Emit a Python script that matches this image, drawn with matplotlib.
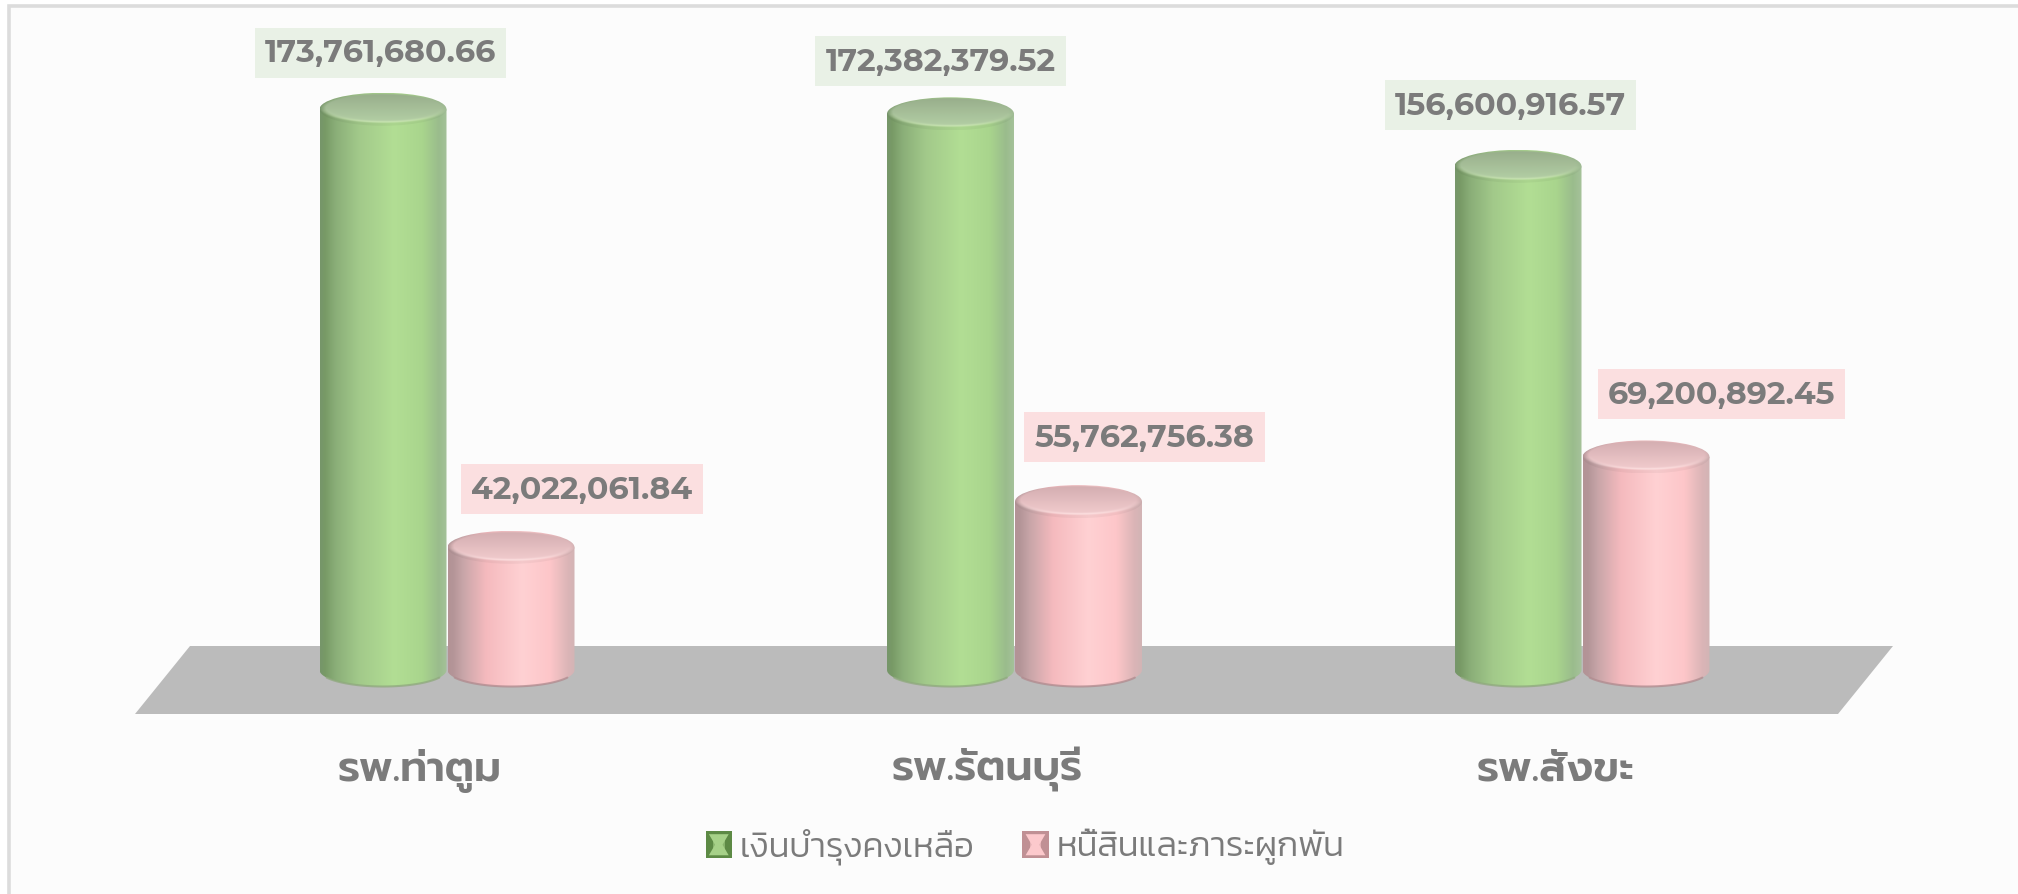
import numpy as np
import matplotlib
matplotlib.use('Agg')
import matplotlib.pyplot as plt
from matplotlib.colors import to_rgb
from matplotlib.font_manager import FontProperties
from matplotlib.legend_handler import HandlerBase
from matplotlib.patches import Ellipse, PathPatch, Polygon, Rectangle
from matplotlib.path import Path
from matplotlib.transforms import ScaledTranslation

# ---- data ----
categories = ['รพ.ท่าตูม', 'รพ.รัตนบุรี', 'รพ.สังขะ']
series_names = ['เงินบำรุงคงเหลือ', 'หนี้สินและภาระผูกพัน']
balance = [173761680.66, 172382379.52, 156600916.57]
liabilities = [42022061.84, 55762756.38, 69200892.45]

# ---- layout (pixels of the 2018x895 figure) ----
W, H = 2018, 895
GROUP_LEFT_PX, GROUP_STEP_PX = 447.0, 567.5
ZERO_PX, PX_PER_UNIT = 688.0, 3.325e-6
AXES_BOTTOM_PX = 728.0
BAR_W_PX, CAP_RY_PX, BASE_PX = 127.0, 16.5, 671.0
GREEN_DX, GREEN_DY = [-2.5, -10, -7.5], [56.5, 52.5, 61]
PINK_DX, PINK_DY = [71, 66, 75.5], [58, 64.5, 63]
TEXT = '#7b7b7b'

PALETTE = {
    'green': dict(
        stops=[(0, '#76966a'), (.04, '#789a66'), (.12, '#8aae78'), (.3, '#a2c98a'), (.58, '#b2de94'),
               (.8, '#a9d58d'), (.93, '#9abc8c'), (1, '#a6c29b')],
        top='#97ad8b', bottom='#b7d3a8', glow='#cfe9b8', rim='#8fa97d', label='#e9f1e6',
        sw_dark='#5d8a45', sw_light='#a6d188'),
    'pink': dict(
        stops=[(0, '#b39396'), (.04, '#b49598'), (.12, '#c9a6a9'), (.3, '#f5babe'), (.58, '#ffd1d3'),
               (.8, '#fdc6c9'), (.94, '#dbb5b7'), (1, '#d2b4b5')],
        top='#d3adb0', bottom='#f5cfd1', glow='#ffe6e6', rim='#b08a8e', label='#fbdfe0',
        sw_dark='#c09094', sw_light='#fcc9cc'),
}


def ramp(stops, n=256):
    xs = [s[0] for s in stops]
    cols = np.array([to_rgb(s[1]) for s in stops])
    t = np.linspace(0, 1, n)
    return np.stack([np.interp(t, xs, cols[:, i]) for i in range(3)], axis=-1)


plt.rcParams['font.family'] = ['Prompt', 'Kanit', 'Noto Sans', 'DejaVu Sans']
fig = plt.figure(figsize=(W / 100, H / 100), dpi=100, facecolor='white')


def fx(p):
    return p / W


def fy(p):
    return 1 - p / H


# panel frame
fig.add_artist(Rectangle((fx(8.5), fy(H + 20)), fx(W + 20), 1 - fy(H + 20) - (1 - fy(6.5)),
                         transform=fig.transFigure, fc='#fcfcfc', ec='#dcdcdc', lw=2.6, zorder=-2))

ax = fig.add_axes([0, 1 - AXES_BOTTOM_PX / H, 1, AXES_BOTTOM_PX / H], facecolor='none')
ax.set_xlim(-GROUP_LEFT_PX / GROUP_STEP_PX, (W - GROUP_LEFT_PX) / GROUP_STEP_PX)
ylim = ((ZERO_PX - AXES_BOTTOM_PX) / PX_PER_UNIT, ZERO_PX / PX_PER_UNIT)
ax.set_ylim(*ylim)
for s in ax.spines.values():
    s.set_visible(False)
ax.set_yticks([])

# floor
ax.add_patch(Polygon([(fx(135), fy(715)), (fx(190), fy(647)), (fx(1893), fy(647)), (fx(1838), fy(715))],
                     closed=True, transform=fig.transFigure, fc='#bbbbbb', ec='none', zorder=1, clip_on=False))

bar_w = BAR_W_PX / GROUP_STEP_PX
cap_ry = CAP_RY_PX / PX_PER_UNIT
base = (ZERO_PX - BASE_PX) / PX_PER_UNIT


def cylinder(cx, value, style, z):
    pal = PALETTE[style]
    x0, x1 = cx - bar_w / 2, cx + bar_w / 2
    t = np.linspace(np.pi, 2 * np.pi, 60)
    ex, ey = cx + bar_w / 2 * np.cos(t), base + cap_ry * np.sin(t)
    verts = [(x0, value)] + list(zip(ex, ey)) + [(x1, value), (x0, value)]
    body = PathPatch(Path(verts, closed=True), fc='none', ec='none', transform=ax.transData)
    ax.add_patch(body)
    im = ax.imshow(ramp(pal['stops'])[None, :, :], extent=(x0, x1, base - cap_ry, value), aspect='auto',
                   interpolation='bilinear', zorder=z)
    im.set_clip_path(body)
    keep = (t > 1.14 * np.pi) & (t < 1.86 * np.pi)
    ax.plot(ex[keep], ey[keep], color=pal['rim'], lw=1.5, alpha=.75, zorder=z + .1, solid_capstyle='round')

    # top cap
    ny, nx = 80, 200
    v, u = np.mgrid[-1:1:ny * 1j, -1:1:nx * 1j]
    d2 = (u / .97) ** 2 + ((v + .1) / .86) ** 2
    disc = np.clip((d2 - .88) / .22, 0, 1)[..., None]
    face = (np.array(to_rgb(pal['top'])) * (1 - (v[..., None] + 1) / 2)
            + np.array(to_rgb(pal['bottom'])) * ((v[..., None] + 1) / 2))
    side = ramp(pal['stops'], nx)[None, :, :] * np.ones((ny, nx, 1)) * .96
    img = face * (1 - disc) + side * disc
    glow = np.exp(-((d2 - 1.0) / .13) ** 2) * (v > 0) * (1 - u ** 2)
    img = img * (1 - glow[..., None] * .8) + np.array(to_rgb(pal['glow'])) * glow[..., None] * .8
    cap = Ellipse((cx, value), bar_w, 2 * cap_ry, fc='none', ec='none')
    ax.add_patch(cap)
    cim = ax.imshow(np.clip(img, 0, 1), extent=(x0, x1, value - cap_ry, value + cap_ry), aspect='auto',
                    interpolation='bilinear', zorder=z + .2)
    cim.set_clip_path(cap)


x = np.arange(len(categories))
half = (BAR_W_PX + 1) / 2 / GROUP_STEP_PX
for i in x:
    cylinder(i - half, balance[i], 'green', 3)
    cylinder(i + half, liabilities[i], 'pink', 4)
ax.set_xlim(-GROUP_LEFT_PX / GROUP_STEP_PX, (W - GROUP_LEFT_PX) / GROUP_STEP_PX)
ax.set_ylim(*ylim)

# value labels
value_font = FontProperties(family=['Montserrat Alternates', 'Prompt', 'DejaVu Sans'], weight=700, size=22.8)
for series, name, dxs, dys, off in ((balance, 'green', GREEN_DX, GREEN_DY, -half),
                                    (liabilities, 'pink', PINK_DX, PINK_DY, half)):
    for i, v in enumerate(series):
        ax.annotate(f'{v:,.2f}', xy=(i + off, v), xytext=(dxs[i], dys[i]), textcoords='offset pixels',
                    ha='center', va='center', color=TEXT, fontproperties=value_font, zorder=8,
                    bbox=dict(boxstyle='square,pad=0.32', fc=PALETTE[name]['label'], ec='none'))

# category labels through the x axis
ax.set_xticks(x)
ax.set_xticklabels(categories)
ax.tick_params(axis='x', length=0, pad=38)
shift = ScaledTranslation(-27 / 100, 0, fig.dpi_scale_trans)
for lab in ax.get_xticklabels():
    lab.set_transform(lab.get_transform() + shift)
    lab.set_fontproperties(FontProperties(family=['Prompt', 'Kanit', 'DejaVu Sans'], weight=600, size=30.5))
    lab.set_color(TEXT)
    lab.set_verticalalignment('baseline')


# legend with small bevelled swatches
class Swatch(HandlerBase):
    def create_artists(self, legend, orig, xd, yd, width, height, fontsize, trans):
        pal = PALETTE[orig.get_label_key()]
        sw, sh = width, width * 1.05
        x0, y0 = -xd, -yd + (height - sh) / 2 - 1
        outer = Rectangle((x0, y0), sw, sh, fc=pal['sw_dark'], ec='none', transform=trans)
        m = sw * .12
        hour = Polygon([(x0 + m, y0 + sh - m), (x0 + sw - m, y0 + sh - m), (x0 + sw / 2 + m * 1.2, y0 + sh / 2),
                        (x0 + sw - m, y0 + m), (x0 + m, y0 + m), (x0 + sw / 2 - m * 1.2, y0 + sh / 2)],
                       closed=True, fc=pal['sw_light'], ec='none', transform=trans)
        inner = Rectangle((x0 + sw * .28, y0 + sh * .28), sw * .44, sh * .44, fc=pal['sw_light'], ec='none',
                          alpha=.6, transform=trans)
        return [outer, hour, inner]


class Key(Rectangle):
    def __init__(self, key):
        super().__init__((0, 0), 1, 1)
        self._key = key

    def get_label_key(self):
        return self._key


legend_font = FontProperties(family=['Kanit', 'Prompt', 'DejaVu Sans'], weight=300, size=25)
handles = [Key('green'), Key('pink')]
leg = fig.legend(handles, series_names, handler_map={Key: Swatch()}, loc='center', ncol=2,
                 bbox_to_anchor=(fx(1025), fy(847)), frameon=False, prop=legend_font, labelcolor=TEXT,
                 handlelength=.75, handletextpad=.23, columnspacing=1.38, borderpad=0, borderaxespad=0)

fig.savefig('out.png', dpi=100, facecolor='white')
